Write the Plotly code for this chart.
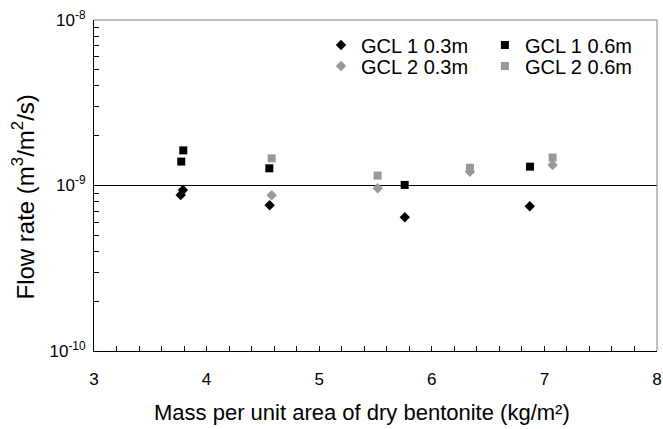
import plotly.graph_objects as go

# Data
gcl1_03_x = [3.77, 3.79, 4.56, 5.76, 6.87]
gcl1_03_y = [0.877e-9, 0.94e-9, 0.76e-9, 0.643e-9, 0.75e-9]

gcl1_06_x = [3.775, 3.793, 4.557, 5.759, 6.872]
gcl1_06_y = [1.395e-9, 1.63e-9, 1.27e-9, 1.008e-9, 1.30e-9]

gcl2_03_x = [4.578, 5.519, 6.339, 7.073]
gcl2_03_y = [0.874e-9, 0.963e-9, 1.21e-9, 1.33e-9]

gcl2_06_x = [4.578, 5.519, 6.339, 7.073]
gcl2_06_y = [1.46e-9, 1.148e-9, 1.28e-9, 1.475e-9]

y_tickvals = [1e-10, 1e-9, 1e-8]
y_ticktext = ["10<sup>-10</sup>", "10<sup>-9</sup>", "10<sup>-8</sup>"]
y_minor = [k * 10.0 ** e for e in (-10, -9) for k in range(2, 10)]

x_title = "Mass per unit area of dry bentonite (kg/m²)"
y_title = "Flow rate (m<sup>3</sup>/m<sup>2</sup>/s)"

BLACK = "#000000"
GRAY = "#999999"
FONT = "Liberation Sans, Arial, sans-serif"

fig = go.Figure()
fig.add_trace(go.Scatter(x=gcl1_03_x, y=gcl1_03_y, mode="markers", name="GCL 1 0.3m",
                         marker=dict(symbol="diamond", size=8, color=BLACK), legend="legend"))
fig.add_trace(go.Scatter(x=gcl1_06_x, y=gcl1_06_y, mode="markers", name="GCL 1 0.6m",
                         marker=dict(symbol="square", size=8, color=BLACK), legend="legend2"))
fig.add_trace(go.Scatter(x=gcl2_03_x, y=gcl2_03_y, mode="markers", name="GCL 2 0.3m",
                         marker=dict(symbol="diamond", size=8, color=GRAY), legend="legend3"))
fig.add_trace(go.Scatter(x=gcl2_06_x, y=gcl2_06_y, mode="markers", name="GCL 2 0.6m",
                         marker=dict(symbol="square", size=8, color=GRAY), legend="legend4"))

legend_common = dict(font=dict(family=FONT, size=20, color="black"), bgcolor="rgba(0,0,0,0)",
                     yanchor="middle", xanchor="left", itemclick=False)

fig.update_layout(
    width=663, height=429,
    margin=dict(l=94, r=6, t=20, b=78),
    paper_bgcolor="white", plot_bgcolor="white",
    font=dict(family=FONT, color="black"),
    legend=dict(x=0.4033, y=0.9245, **legend_common),
    legend2=dict(x=0.6943, y=0.9245, **legend_common),
    legend3=dict(x=0.4033, y=0.861, **legend_common),
    legend4=dict(x=0.6943, y=0.861, **legend_common),
    xaxis=dict(
        range=[3, 8], dtick=1, tick0=3, automargin=False,
        showline=True, linecolor="black", linewidth=1,
        ticks="inside", ticklen=5, tickcolor="black",
        minor=dict(dtick=0.2, tick0=3, ticks="inside", ticklen=5, tickcolor="black", showgrid=False),
        showgrid=False, zeroline=False,
        tickfont=dict(size=17, family=FONT),
        ticklabelstandoff=13,
    ),
    yaxis=dict(
        type="log", range=[-10, -8], automargin=False,
        tickvals=y_tickvals, ticktext=y_ticktext,
        showline=True, linecolor="black", linewidth=1,
        ticks="", showgrid=True, gridcolor="black", gridwidth=1,
        minor=dict(tickvals=y_minor, ticks="inside", ticklen=5, tickcolor="black", showgrid=False),
        zeroline=False,
        tickfont=dict(size=17, family=FONT),
        ticklabelstandoff=4,
    ),
    showlegend=True,
    annotations=[
        dict(text=x_title, xref="paper", yref="paper", x=0.476, y=-0.1873,
             xanchor="center", yanchor="middle", showarrow=False,
             font=dict(size=22, family=FONT, color="black")),
        dict(text=y_title, xref="paper", yref="paper", x=-0.1261, y=0.4637,
             xanchor="center", yanchor="middle", showarrow=False, textangle=-90,
             font=dict(size=24, family=FONT, color="black")),
    ],
)

# gray top and right frame
fig.add_shape(type="line", xref="paper", yref="paper", x0=0, x1=1, y0=1, y1=1,
              line=dict(color="#808080", width=1))
fig.add_shape(type="line", xref="paper", yref="paper", x0=1, x1=1, y0=0, y1=1,
              line=dict(color="#808080", width=1))

fig.write_html(
    "out.html",
    config={"displayModeBar": False},
    post_script="document.body.style.margin='0';document.body.style.overflow='hidden';",
)
